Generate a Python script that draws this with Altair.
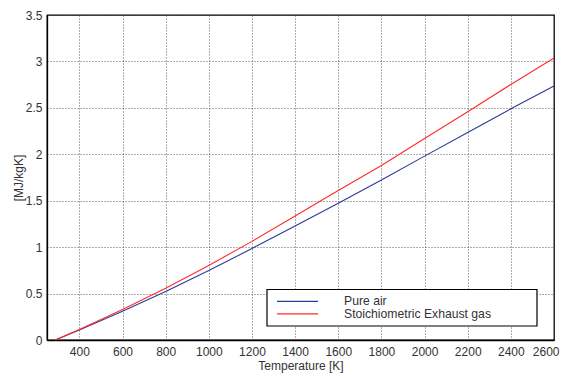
import altair as alt
import pandas as pd

# Data
temps = [288, 400, 600, 800, 1000, 1200, 1400, 1600, 1800, 2000, 2200, 2400, 2600]
air = [0.0, 0.108, 0.310, 0.522, 0.748, 0.985, 1.228, 1.473, 1.724, 1.980, 2.235, 2.490, 2.735]
exhaust = [0.0, 0.112, 0.328, 0.557, 0.803, 1.062, 1.335, 1.610, 1.880, 2.170, 2.458, 2.752, 3.036]
series = ["Pure air", "Stoichiometric Exhaust gas"]
colors = ["#2b3a9a", "#ff2b2b"]
x_ticks = [400, 600, 800, 1000, 1200, 1400, 1600, 1800, 2000, 2200, 2400, 2600]
y_ticks = [0, 0.5, 1, 1.5, 2, 2.5, 3, 3.5]

rows = []
for t, a, e in zip(temps, air, exhaust):
    rows.append({"T": t, "h": a, "s": series[0]})
    rows.append({"T": t, "h": e, "s": series[1]})
df = pd.DataFrame(rows)

W, H = 507, 325
FONT = "Liberation Sans"

lines = alt.Chart(df).mark_line(strokeWidth=1.1).encode(
    x=alt.X("T:Q", scale=alt.Scale(domain=[250, 2600], nice=False, zero=False),
            axis=alt.Axis(values=x_ticks, title="Temperature [K]", format="d",
                          labelFlush=True, labelFlushOffset=5)),
    y=alt.Y("h:Q", scale=alt.Scale(domain=[0, 3.5], nice=False),
            axis=alt.Axis(values=y_ticks, title="[MJ/kgK]", format="~g",
                          labelFlush=False)),
    color=alt.Color("s:N", scale=alt.Scale(domain=series, range=colors), legend=None),
    detail="s:N",
)

# manual legend box
box = alt.Chart(pd.DataFrame({"k": [0]})).mark_rect(
    fill="white", stroke="black", strokeWidth=1.2
).encode(x=alt.value(220), x2=alt.value(490), y=alt.value(274.5), y2=alt.value(311))

leg_layers = []
for i, (name, col) in enumerate(zip(series, colors)):
    yy = 286.4 + i * 12.5
    d = pd.DataFrame({"name": [name]})
    leg_layers.append(
        alt.Chart(d).mark_rule(color=col, strokeWidth=1.1).encode(
            x=alt.value(230), x2=alt.value(271), y=alt.value(yy))
    )
    leg_layers.append(
        alt.Chart(d).mark_text(align="left", baseline="middle", font=FONT,
                               fontSize=12.2, color="#333").encode(
            x=alt.value(297), y=alt.value(yy), text="name:N")
    )

chart = alt.layer(lines, box, *leg_layers).properties(
    width=W, height=H,
    autosize=alt.AutoSizeParams(type="none"),
    padding={"left": 39, "top": 7, "right": 6, "bottom": 36},
).configure_view(
    stroke="black", strokeWidth=1.3
).configure_axis(
    grid=True, gridColor="#333", gridDash=[1, 2], gridWidth=0.8, gridOpacity=1,
    domain=True, domainColor="black", domainWidth=1.3,
    ticks=False, labelFont=FONT, labelFontSize=12, labelColor="#333",
    labelOverlap=False,
    titleFont=FONT, titleFontSize=12, titleFontWeight="normal", titleColor="#333",
).configure_axisX(
    labelPadding=6, titlePadding=3
).configure_axisY(
    labelPadding=5, titlePadding=0
)

chart.save("out.html", embed_options={"renderer": "svg", "actions": False})
